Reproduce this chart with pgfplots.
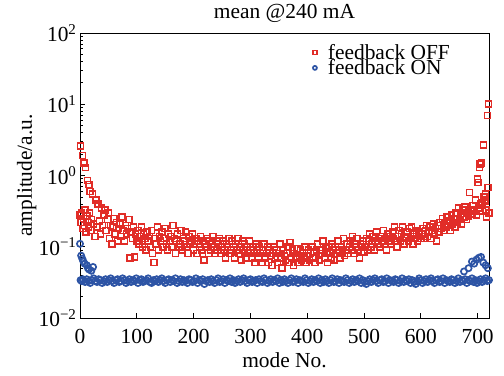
\documentclass[border=0pt]{standalone}
\usepackage{fontspec}
\setmainfont{Liberation Serif}
\usepackage{pgfplots}
\pgfplotsset{compat=1.18}
\definecolor{cred}{RGB}{225,45,40}
\definecolor{cblue}{RGB}{45,84,165}
\newcommand{\fs}{\fontsize{21.5}{24}\selectfont}
\begin{document}
\begin{tikzpicture}
\useasboundingbox (-80bp,-58bp) rectangle (424bp,318bp);
\begin{axis}[
  scale only axis, width=409bp, height=285bp,
  ymode=log, xmin=0, xmax=720, ymin=0.01, ymax=100,
  xtick={0,100,200,300,400,500,600,700},
  xticklabels={0,100,200,300,400,500,600,700},
  ytick={0.01,0.1,1,10,100},
  yticklabels={10\textsuperscript{−2},10\textsuperscript{−1},10\textsuperscript{0},10\textsuperscript{1},10\textsuperscript{2}},
  tick align=inside, xtick pos=bottom, ytick pos=left,
  minor y tick num=8,
  major tick length=5bp, minor tick length=3bp,
  axis line style={line width=0.9bp},
  tick style={line width=0.7bp, black},
  tick label style={font=\fs},
  xticklabel style={yshift=-8bp},
  xlabel={mode No.}, ylabel={amplitude/a.u.},
  label style={font=\fs},
  xlabel style={at={(axis description cs:0.5,-0.175)}, anchor=base},
  ylabel style={at={(axis description cs:-0.13,0.5)}, anchor=center},
  title={mean @240 mA},
  title style={font=\fs, at={(axis description cs:0.5,1)}, anchor=base, yshift=9bp},
  legend style={at={(axis description cs:0.569,0.962)}, anchor=north west, draw=none, fill=none, font=\fs,
    row sep=-1bp, inner sep=0pt, nodes={inner sep=0bp}, /tikz/every odd column/.style={column sep=11bp}},
  legend image post style={mark size=2bp},
  legend cell align=left,
  clip=true,
]
\addplot[only marks, mark=square, mark size=3bp, mark options={cred, line width=1.5bp}] coordinates {
(0,0.28)(1,2.6)(2,0.22)(3,0.30)(4,1.9)(5,0.18)(6,0.25)(7,1.5)(8,0.20)(9,0.33)(10,1.3)(11,0.16)(12,0.27)(13,0.85)(14,0.22)(15,0.19)(16,0.75)(17,0.30)(18,0.60)(19,0.17)(20,0.24)(22,0.55)(24,0.21)(26,0.14)(28,0.45)(30,0.19)(32,0.40)(34,0.23)(36,0.15)(38,0.35)(40,0.20)(42,0.28)(44,0.33)(46,0.17)(48,0.24)(50,0.30)(52,0.13)(54,0.20)(56,0.11)(58,0.19)(60,0.25)(62,0.15)(64,0.22)(66,0.12)(68,0.18)(70,0.21)(72,0.14)(74,0.26)(76,0.17)(78,0.12)(80,0.20)(82,0.15)(84,0.18)(86,0.24)(88,0.070)(90,0.16)(92,0.13)(94,0.19)(96,0.072)(98,0.15)(100,0.12)
(102,0.17)(104,0.11)(106,0.14)(108,0.19)(110,0.10)(112,0.15)(114,0.13)(116,0.09)(118,0.16)(120,0.12)(122,0.14)(124,0.10)(126,0.17)(128,0.08)(130,0.060)(132,0.13)(134,0.11)(136,0.19)(138,0.09)(140,0.14)(142,0.12)(144,0.16)(146,0.10)(148,0.13)(150,0.18)(152,0.11)(154,0.09)(156,0.15)(158,0.12)(160,0.14)(162,0.10)(164,0.20)(166,0.13)(168,0.08)(170,0.12)(172,0.15)(174,0.10)(176,0.11)(178,0.17)(180,0.09)(182,0.13)(184,0.12)(186,0.16)(188,0.10)(190,0.08)(192,0.14)(194,0.11)(196,0.12)(198,0.15)(200,0.09)
(202,0.11)(204,0.13)(206,0.08)(208,0.12)(210,0.10)(212,0.14)(214,0.09)(216,0.12)(218,0.065)(220,0.11)(222,0.10)(224,0.13)(226,0.08)(228,0.12)(230,0.09)(232,0.11)(234,0.14)(236,0.10)(238,0.08)(240,0.12)(242,0.09)(244,0.11)(246,0.13)(248,0.08)(250,0.10)(252,0.12)(254,0.09)(256,0.07)(258,0.11)(260,0.10)(262,0.13)(264,0.08)(266,0.09)(268,0.12)(270,0.10)(272,0.07)(274,0.11)(276,0.09)(278,0.13)(280,0.08)(282,0.10)(284,0.065)(286,0.12)(288,0.09)(290,0.11)(292,0.07)(294,0.10)(296,0.08)(298,0.12)(300,0.09)
(302,0.07)(304,0.10)(306,0.08)(308,0.06)(310,0.11)(312,0.09)(314,0.07)(316,0.10)(318,0.08)(320,0.06)(322,0.09)(324,0.11)(326,0.07)(328,0.08)(330,0.10)(332,0.06)(334,0.09)(336,0.075)(338,0.055)(340,0.08)(342,0.10)(344,0.07)(346,0.09)(348,0.06)(350,0.08)(352,0.11)(354,0.07)(356,0.05)(358,0.09)(360,0.075)(362,0.065)(364,0.08)(366,0.10)(368,0.06)(370,0.115)(372,0.07)(374,0.09)(376,0.055)(378,0.08)(380,0.07)(382,0.095)(384,0.06)(386,0.075)(388,0.09)(390,0.065)(392,0.08)(394,0.07)(396,0.10)(398,0.06)(400,0.075)
(402,0.09)(404,0.065)(406,0.08)(408,0.10)(410,0.07)(412,0.085)(414,0.06)(416,0.09)(418,0.11)(420,0.075)(422,0.065)(424,0.09)(426,0.08)(428,0.12)(430,0.07)(432,0.095)(434,0.085)(436,0.06)(438,0.10)(440,0.08)(442,0.07)(444,0.11)(446,0.09)(448,0.065)(450,0.10)(452,0.08)(454,0.12)(456,0.09)(458,0.07)(460,0.10)(462,0.085)(464,0.13)(466,0.075)(468,0.09)(470,0.11)(472,0.08)(474,0.10)(476,0.12)(478,0.09)(480,0.14)(482,0.08)(484,0.11)(486,0.10)(488,0.13)(490,0.09)(492,0.07)(494,0.11)(496,0.10)(498,0.12)(500,0.085)
(502,0.10)(504,0.13)(506,0.09)(508,0.12)(510,0.15)(512,0.10)(514,0.11)(516,0.14)(518,0.09)(520,0.12)(522,0.16)(524,0.11)(526,0.13)(528,0.10)(530,0.14)(532,0.12)(534,0.17)(536,0.11)(538,0.13)(540,0.09)(542,0.15)(544,0.12)(546,0.14)(548,0.11)(550,0.16)(552,0.13)(554,0.19)(556,0.12)(558,0.10)(560,0.14)(562,0.17)(564,0.12)(566,0.15)(568,0.19)(570,0.11)(572,0.14)(574,0.13)(576,0.16)(578,0.12)(580,0.18)(582,0.14)(584,0.19)(586,0.11)(588,0.15)(590,0.13)(592,0.17)(594,0.12)(596,0.16)(598,0.14)(600,0.13)
(602,0.15)(604,0.18)(606,0.13)(608,0.17)(610,0.20)(612,0.14)(614,0.16)(616,0.19)(618,0.13)(620,0.17)(622,0.21)(624,0.15)(626,0.18)(628,0.12)(630,0.20)(632,0.16)(634,0.22)(636,0.18)(638,0.25)(640,0.17)(642,0.21)(644,0.19)(646,0.26)(648,0.20)(650,0.23)(652,0.17)(654,0.28)(656,0.21)(658,0.25)(660,0.19)(662,0.30)(664,0.22)(666,0.35)(668,0.24)(670,0.28)(672,0.21)(674,0.33)(676,0.26)(678,0.36)(680,0.24)(682,0.30)(684,0.27)(686,0.58)(688,0.33)(690,0.29)(692,0.38)(694,0.32)(696,0.45)(698,0.28)(700,0.9)
(701,0.8)(702,0.35)(703,1.3)(704,1.45)(705,0.32)(706,0.40)(707,1.5)(708,0.42)(709,0.38)(710,2.7)(711,0.50)(712,0.45)(713,0.43)(714,0.55)(715,0.33)(716,0.26)(717,7.0)(718,0.68)(719,10.0)(720,0.30)
};
\addlegendentry{feedback OFF}
\addplot[only marks, mark=o, mark size=3.1bp, mark options={cblue, line width=1.7bp}] coordinates {
(0,0.11)(1,0.034)(2,0.075)(3,0.033)(4,0.068)(5,0.035)(6,0.062)(8,0.058)(12,0.055)(14,0.050)(16,0.048)(20,0.046)(23,0.052)
(6,0.034)(9,0.032)(12,0.035)(15,0.033)(18,0.031)(21,0.034)(24,0.036)(27,0.033)(30,0.032)(33,0.035)(36,0.034)(39,0.031)(42,0.033)(45,0.035)(48,0.032)(51,0.034)(54,0.036)(57,0.033)(60,0.031)(63,0.034)(66,0.035)(69,0.032)(72,0.033)(75,0.036)(78,0.034)(81,0.031)(84,0.033)(87,0.035)(90,0.032)(93,0.034)(96,0.033)(99,0.036)
(102,0.031)(105,0.034)(108,0.035)(111,0.032)(114,0.033)(117,0.034)(120,0.036)(123,0.032)(126,0.031)(129,0.034)(132,0.033)(135,0.035)(138,0.032)(141,0.034)(144,0.036)(147,0.033)(150,0.031)(153,0.034)(156,0.035)(159,0.032)(162,0.034)(165,0.033)(168,0.036)(171,0.031)(174,0.033)(177,0.035)(180,0.032)(183,0.034)(186,0.033)(189,0.031)(192,0.035)(195,0.034)(198,0.032)
(201,0.033)(204,0.036)(207,0.031)(210,0.034)(213,0.033)(216,0.035)(219,0.030)(222,0.033)(225,0.034)(228,0.032)(231,0.035)(234,0.033)(237,0.031)(240,0.034)(243,0.036)(246,0.032)(249,0.033)(252,0.035)(255,0.031)(258,0.034)(261,0.033)(264,0.036)(267,0.032)(270,0.034)(273,0.031)(276,0.033)(279,0.035)(282,0.032)(285,0.034)(288,0.036)(291,0.033)(294,0.031)(297,0.034)(300,0.035)
(303,0.032)(306,0.033)(309,0.034)(312,0.031)(315,0.035)(318,0.033)(321,0.032)(324,0.036)(327,0.034)(330,0.031)(333,0.033)(336,0.035)(339,0.032)(342,0.034)(345,0.033)(348,0.036)(351,0.031)(354,0.034)(357,0.032)(360,0.035)(363,0.033)(366,0.031)(369,0.034)(372,0.036)(375,0.032)(378,0.033)(381,0.035)(384,0.031)(387,0.034)(390,0.033)(393,0.032)(396,0.036)(399,0.034)
(402,0.031)(405,0.033)(408,0.035)(411,0.032)(414,0.034)(417,0.033)(420,0.036)(423,0.031)(426,0.034)(429,0.032)(432,0.035)(435,0.033)(438,0.031)(441,0.034)(444,0.036)(447,0.032)(450,0.033)(453,0.035)(456,0.031)(459,0.034)(462,0.033)(465,0.032)(468,0.036)(471,0.034)(474,0.031)(477,0.033)(480,0.035)(483,0.032)(486,0.034)(489,0.033)(492,0.036)(495,0.031)(498,0.034)
(501,0.032)(504,0.030)(507,0.033)(510,0.035)(513,0.032)(516,0.034)(519,0.036)(522,0.033)(525,0.031)(528,0.034)(531,0.035)(534,0.032)(537,0.033)(540,0.036)(543,0.031)(546,0.034)(549,0.033)(552,0.032)(555,0.035)(558,0.034)(561,0.031)(564,0.033)(567,0.036)(570,0.032)(573,0.034)(576,0.033)(579,0.035)(582,0.031)(585,0.034)(588,0.032)(591,0.030)(594,0.033)(597,0.036)(600,0.034)
(603,0.031)(606,0.033)(609,0.035)(612,0.032)(615,0.034)(618,0.036)(621,0.033)(624,0.031)(627,0.034)(630,0.035)(633,0.032)(636,0.033)(639,0.036)(642,0.031)(645,0.034)(648,0.033)(651,0.032)(654,0.035)(657,0.034)(660,0.031)(663,0.033)(666,0.036)(669,0.032)(672,0.034)(675,0.033)(678,0.035)(681,0.031)(684,0.034)(687,0.033)(690,0.036)(693,0.032)(696,0.034)(699,0.031)
(702,0.033)(705,0.035)(708,0.032)(711,0.034)(714,0.036)(717,0.033)(720,0.034)
(676,0.045)(684,0.050)(690,0.062)(694,0.058)(698,0.066)(702,0.070)(706,0.072)(710,0.060)(714,0.055)(718,0.050)
};
\addlegendentry{feedback ON}
\end{axis}
\end{tikzpicture}
\end{document}
